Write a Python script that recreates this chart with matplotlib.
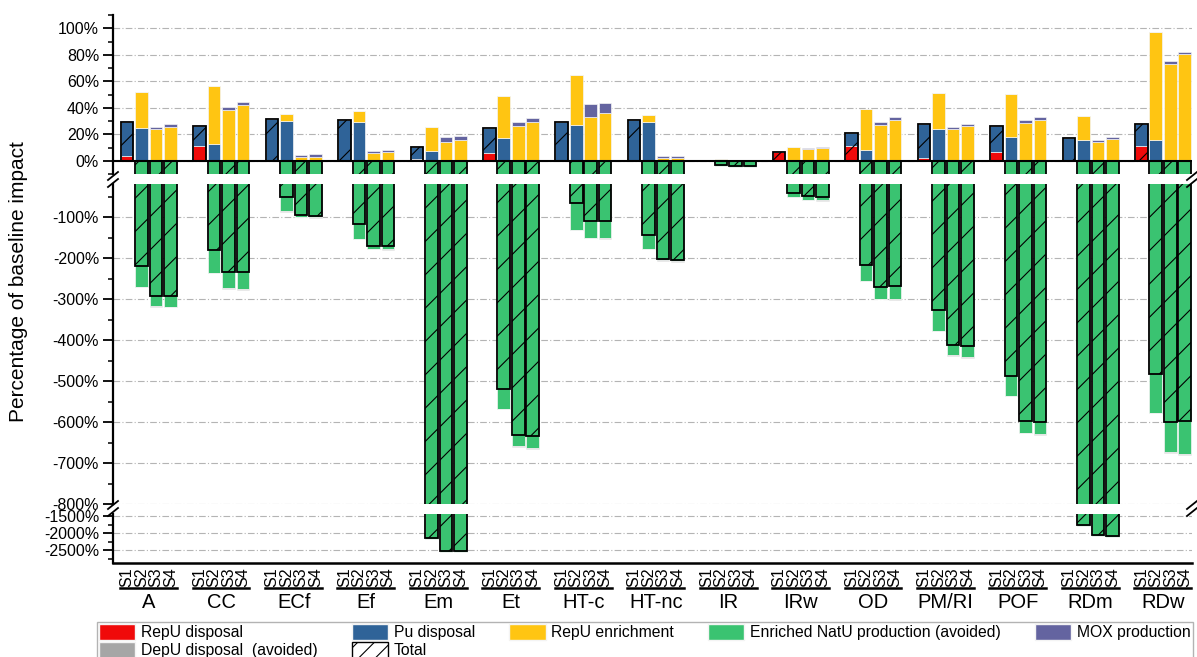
import numpy as np
import matplotlib
matplotlib.use("Agg")
import matplotlib.pyplot as plt
import matplotlib.transforms as mtransforms
from matplotlib.lines import Line2D
from matplotlib.patches import Patch
from matplotlib.ticker import MultipleLocator, FixedLocator, FuncFormatter

plt.rcParams['font.family'] = ['Liberation Sans', 'DejaVu Sans']
plt.rcParams['axes.unicode_minus'] = False
plt.rcParams['hatch.linewidth'] = 0.8

categories = ['A', 'CC', 'ECf', 'Ef', 'Em', 'Et', 'HT-c', 'HT-nc', 'IR', 'IRw',
              'OD', 'PM/RI', 'POF', 'RDm', 'RDw']
scenarios = ['S1', 'S2', 'S3', 'S4']

# values in % of baseline impact, one row per category, columns S1..S4
repu_disposal = [[3.5, 0, 0, 0], [11.5, 0, 0, 0], [0, 0, 0, 0], [0, 0, 0, 0],
                 [1.5, 0, 0, 0], [5.5, 0, 0, 0], [0, 0, 0, 0], [0, 0, 0, 0],
                 [0, 0, 0, 0], [6.3, 0, 0, 0], [10.8, 0, 0, 0], [2.3, 0, 0, 0],
                 [6.3, 0, 0, 0], [0, 0, 0, 0], [11.0, 0, 0, 0]]
pu_disposal = [[25.7, 24.6, 0, 0], [15.1, 13.0, 0, 0], [31.6, 30.1, 0, 0],
               [31.1, 29.2, 0, 0], [8.8, 7.0, 0, 0], [19.1, 17.1, 0, 0],
               [29.2, 27.1, 0, 0], [31.1, 29.6, 0, 0], [0, 0, 0, 0],
               [0, 0, 0, 0], [9.8, 7.8, 0, 0], [25.3, 23.6, 0, 0],
               [19.6, 18.3, 0, 0], [17.1, 15.3, 0, 0], [16.9, 15.3, 0, 0]]
repu_enrichment = [[0, 27.2, 23.6, 25.6], [0, 43.7, 38.2, 42.0], [0, 5.3, 3.0, 3.2],
                   [0, 8.5, 6.0, 6.5], [0, 18.1, 14.5, 16.0], [0, 31.6, 26.6, 29.6],
                   [0, 37.7, 32.9, 36.4], [0, 4.6, 1.8, 2.0], [0, 1.2, 0.3, 0.3],
                   [0, 10.3, 9.0, 10.0], [0, 31.4, 27.1, 30.9], [0, 27.6, 23.6, 26.1],
                   [0, 32.2, 28.4, 31.1], [0, 18.1, 14.5, 16.3], [0, 81.7, 73.1, 80.4]]
mox_production = [[0, 0, 2.0, 2.0], [0, 0, 2.5, 2.2], [0, 0, 1.5, 1.6],
                  [0, 0, 1.5, 1.5], [0, 0, 3.1, 2.6], [0, 0, 2.6, 2.6],
                  [0, 0, 10.1, 7.2], [0, 0, 1.7, 1.8], [0, 0, 0.6, 0.6],
                  [0, 0, 0.3, 0.3], [0, 0, 2.1, 2.0], [0, 0, 2.0, 2.0],
                  [0, 0, 2.0, 2.1], [0, 0, 1.3, 1.3], [0, 0, 2.0, 2.0]]
natu_avoided = [[0, -271, -317, -318], [0, -236, -274, -276], [0, -86, -99, -100],
                [0, -153, -177, -178], [0, -2170, -2535, -2545], [0, -567, -659, -664],
                [0, -131, -151, -151], [0, -178, -205, -208], [0, -4.3, -4.5, -4.5],
                [0, -51, -57, -59], [0, -255, -299, -300], [0, -377, -437, -441],
                [0, -537, -626, -630], [0, -1785, -2078, -2105], [0, -578, -673, -679]]
depu_avoided = [[0, -0.5, -1.5, -2], [0, -0.5, -1.5, -2], [0, -0.2, -0.8, -0.8],
                [0, -0.3, -1, -1.5], [0, -1, -3, -3], [0, -0.5, -1.5, -2],
                [0, -0.3, -1, -1.5], [0, -0.3, -1, -1], [0, 0, -0.3, -0.3],
                [0, -0.2, -1, -1], [0, -0.5, -1.5, -2], [0, -0.5, -1.5, -2],
                [0, -0.5, -1.5, -2], [0, -1, -3, -3], [0, -0.5, -1.5, -2]]

c_red = '#f00a0a'
c_blue = '#2f6398'
c_yellow = '#ffc512'
c_green = '#3ac371'
c_purple = '#6464a0'
c_gray = '#a6a6a6'

pos_parts = [(repu_disposal, c_red), (pu_disposal, c_blue),
             (repu_enrichment, c_yellow), (mox_production, c_purple)]
neg_parts = [(natu_avoided, c_green), (depu_avoided, c_gray)]

x = (np.arange(len(categories))[:, None] * 5 + np.arange(4)[None, :]).ravel()
total = sum(np.array(p, float) for p, _ in pos_parts + neg_parts).ravel()
width = 0.87

W, H = 1197, 657
fig = plt.figure(figsize=(W / 100, H / 100), dpi=100)
left, right = 113 / W, 1192 / W
ax_top = fig.add_axes([left, 1 - 174 / H, right - left, 159 / H])
ax_mid = fig.add_axes([left, 1 - 504 / H, right - left, 320 / H])
ax_bot = fig.add_axes([left, 1 - 563 / H, right - left, 49 / H])
axes = [ax_top, ax_mid, ax_bot]


def draw(ax):
    base = np.zeros(len(x))
    for vals, col in pos_parts:
        v = np.array(vals, float).ravel()
        ax.bar(x, v, width, bottom=base, color=col, edgecolor='#f4f4f4', linewidth=0.5, zorder=2)
        base += v
    base = np.zeros(len(x))
    for vals, col in neg_parts:
        v = np.array(vals, float).ravel()
        ax.bar(x, v, width, bottom=base, color=col, edgecolor='#f4f4f4', linewidth=0.5, zorder=2)
        base += v
    ax.bar(x, total, width, fill=False, edgecolor='black', linewidth=1.3, hatch='/', zorder=3)
    ax.set_xlim(-0.97, 73.5)
    ax.grid(axis='y', color='#b4b4b4', linestyle=(0, (6, 2, 1, 2)), linewidth=0.8)
    ax.set_axisbelow(True)
    for s in ['top', 'right', 'bottom']:
        ax.spines[s].set_visible(False)
    ax.spines['left'].set_linewidth(1.6)
    ax.tick_params(axis='y', which='major', direction='out', length=7, width=1.3, labelsize=11.5, pad=3)
    ax.tick_params(axis='y', which='minor', direction='out', length=3.5, width=1.1)


for ax in axes:
    draw(ax)

pct = FuncFormatter(lambda v, p: '%d%%' % round(v))

ax_top.set_ylim(-10, 110)
ax_top.yaxis.set_major_locator(FixedLocator([0, 20, 40, 60, 80, 100]))
ax_top.yaxis.set_minor_locator(MultipleLocator(10))
ax_top.yaxis.set_major_formatter(pct)
ax_top.axhline(0, color='black', linewidth=1.5, zorder=4)
ax_top.set_xticks([])

ax_mid.set_ylim(-800, -19)
ax_mid.yaxis.set_major_locator(FixedLocator([-100, -200, -300, -400, -500, -600, -700, -800]))
ax_mid.yaxis.set_minor_locator(MultipleLocator(50))
ax_mid.yaxis.set_major_formatter(pct)
ax_mid.set_xticks([])

ax_bot.set_ylim(-2867, -1442)
ax_bot.yaxis.set_major_locator(FixedLocator([-1500, -2000, -2500]))
ax_bot.yaxis.set_minor_locator(MultipleLocator(250))
ax_bot.yaxis.set_major_formatter(pct)
ax_bot.spines['bottom'].set_visible(True)
ax_bot.spines['bottom'].set_linewidth(1.8)
ax_bot.set_xticks(x)
ax_bot.set_xticklabels(scenarios * len(categories), rotation=90, fontsize=11.5)
ax_bot.tick_params(axis='x', length=0, pad=3)

# group labels with underline
trans = mtransforms.blended_transform_factory(ax_bot.transData, fig.transFigure)
for i, cat in enumerate(categories):
    x0 = i * 5
    fig.add_artist(Line2D([x0 - 0.48, x0 + 3.45], [1 - 588 / H] * 2, transform=trans,
                          color='black', linewidth=1.8))
    fig.text(x0 + 1.5, 1 - 603 / H, cat, transform=trans, ha='center', va='center', fontsize=14.5)

# axis break marks
for ypx in [176, 183, 505, 512]:
    for xpx in [113, 1192]:
        fig.add_artist(Line2D([(xpx - 5) / W, (xpx + 5) / W], [1 - (ypx + 4) / H, 1 - (ypx - 4) / H],
                              transform=fig.transFigure, color='black', linewidth=1.3))

fig.text(19 / W, 1 - 282 / H, 'Percentage of baseline impact', rotation=90,
         ha='center', va='center', fontsize=15)

handles = [Patch(facecolor=c_red, edgecolor='#f4f4f4'),
           Patch(facecolor=c_gray, edgecolor='#f4f4f4'),
           Patch(facecolor=c_blue, edgecolor='#f4f4f4'),
           Patch(facecolor='white', edgecolor='black', hatch='//'),
           Patch(facecolor=c_yellow, edgecolor='#f4f4f4'),
           Patch(facecolor=c_green, edgecolor='#f4f4f4'),
           Patch(facecolor=c_purple, edgecolor='#f4f4f4')]
labels = ['RepU disposal', 'DepU disposal  (avoided)', 'Pu disposal', 'Total',
          'RepU enrichment', 'Enriched NatU production (avoided)', 'MOX production']
leg = fig.legend(handles, labels, loc='upper left', bbox_to_anchor=(97 / W, 1 - 622 / H),
                 ncol=5, fontsize=11.3, frameon=True, fancybox=False, edgecolor='#a0a0a0',
                 handlelength=2.3, handleheight=1.15, handletextpad=0.35, columnspacing=2.2,
                 labelspacing=0.12, borderpad=0.15, borderaxespad=0)
leg.get_frame().set_linewidth(1)

fig.savefig('out.png', dpi=100)
